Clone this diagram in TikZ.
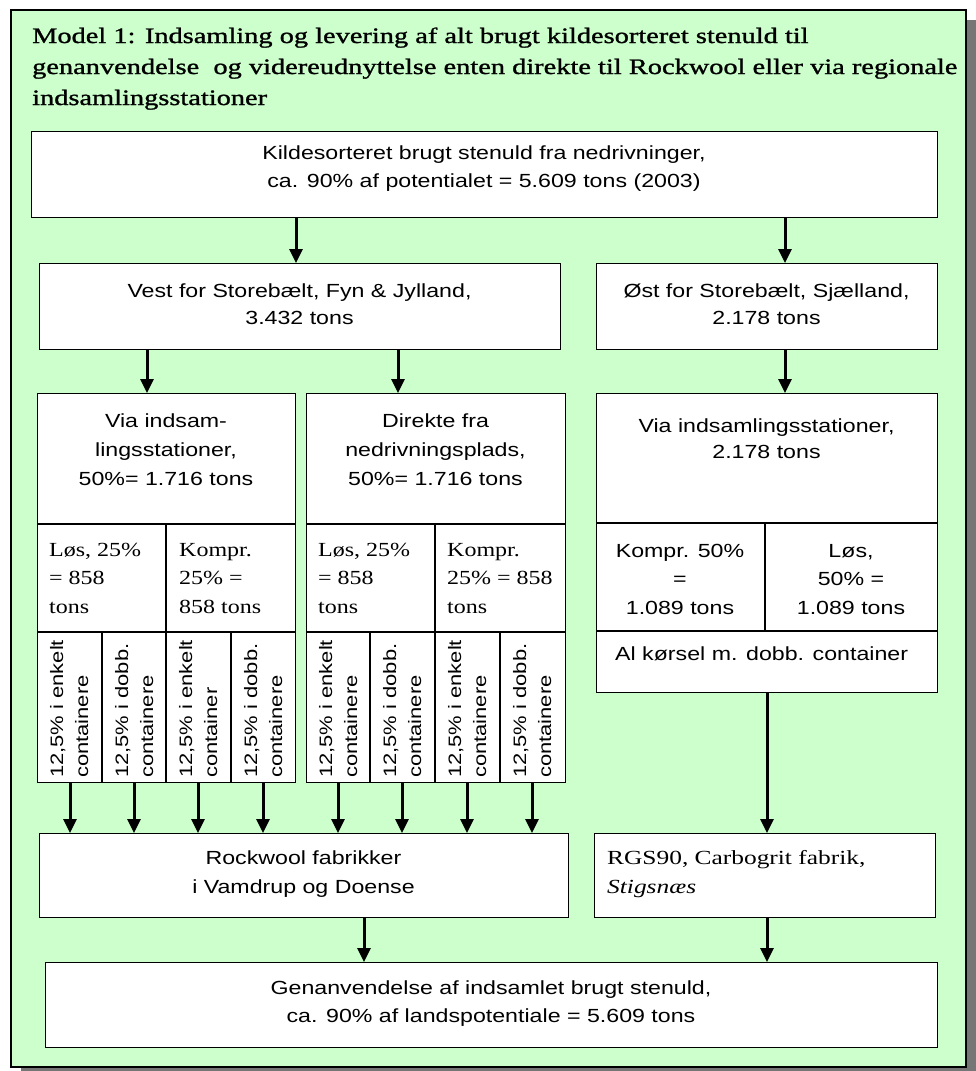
\documentclass[tikz,border=0pt]{standalone}
\usepackage{fontspec}
\setmainfont{Liberation Sans}[FakeStretch=1.22]
\newfontfamily\tnr{Liberation Serif}[FakeStretch=1.2]
\newfontfamily\tnrT{Liberation Serif}[FakeStretch=1.27]
\newfontfamily\tnrTB{Liberation Serif}[FakeStretch=1.29,FakeBold=1.2]
\usetikzlibrary{arrows.meta}
\definecolor{bggreen}{RGB}{204,255,204}
\definecolor{shadegray}{RGB}{118,118,118}
\tikzset{
  boxn/.style={draw=black, line width=1.4pt, fill=white, inner sep=0pt, anchor=north west},
  rule/.style={draw=black, line width=1.4pt},
  arr/.style={line width=3pt, -{Triangle[length=14pt,width=13pt]}},
  sans/.style={inner sep=0pt, font=\fontsize{19}{28}\selectfont, align=center, anchor=base},
  sansl/.style={inner sep=0pt, font=\fontsize{19}{28}\selectfont, align=left, anchor=base west},
  serif/.style={inner sep=0pt, font=\tnr\fontsize{20}{28.5}\selectfont, align=left, anchor=base west},
  serifT/.style={inner sep=0pt, font=\tnrT\fontsize{20}{29}\selectfont, align=left, anchor=base west},
  ttl/.style={inner sep=0pt, font=\tnrTB\fontsize{22}{30}\selectfont, anchor=base west},
  rot/.style={inner sep=0pt, font=\fontsize{18}{25}\selectfont, align=left, rotate=90, anchor=north west},
}
\begin{document}
\begin{tikzpicture}[x=1pt,y=-1pt]
\useasboundingbox (0,0) rectangle (976,1071);
\clip (0,0) rectangle (976,1071);
% frame with shadow
\fill[shadegray] (21,20) rectangle (986,1081);
\draw[line width=2.5pt, fill=bggreen] (11,10) rectangle (966,1067);
% title
\node[ttl] (ttl1) at (32,43) {Model 1: Indsamling og levering af alt brugt kildesorteret stenuld til};
\node[ttl] (ttl2) at (32,74) {genanvendelse\ \ og videreudnyttelse enten direkte til Rockwool eller via regionale};
\node[ttl] (ttl3) at (32,105) {indsamlingsstationer};
% boxes
\node[boxn, minimum width=906pt, minimum height=86pt] (src) at (31,131) {};
\node[boxn, minimum width=521pt, minimum height=86pt] (vest) at (39,263) {};
\node[boxn, minimum width=341pt, minimum height=86pt] (ost) at (596,263) {};
\node[boxn, minimum width=258pt, minimum height=389pt] (tA) at (37,393) {};
\node[boxn, minimum width=259pt, minimum height=389pt] (tB) at (306,393) {};
\node[boxn, minimum width=341pt, minimum height=299pt] (tC) at (596,393) {};
\node[boxn, minimum width=529pt, minimum height=84pt] (rock) at (39,833) {};
\node[boxn, minimum width=341pt, minimum height=84pt] (rgs) at (594,833) {};
\node[boxn, minimum width=892pt, minimum height=85pt] (reuse) at (45,962) {};
% table rules
\draw[rule] (37,524) -- (295,524) (37,632) -- (295,632) (166,524) -- (166,782)
  (102,632) -- (102,782) (231,632) -- (231,782);
\draw[rule] (306,524) -- (565,524) (306,632) -- (565,632) (435,524) -- (435,782)
  (370,632) -- (370,782) (500,632) -- (500,782);
\draw[rule] (596,523) -- (937,523) (596,631) -- (937,631) (765,523) -- (765,631);
% texts (anchor = baseline of the last line)
\node[sans] (srcT) at (484,187) {Kildesorteret brugt stenuld fra nedrivninger,\\ca. 90\% af potentialet = 5.609 tons (2003)};
\node[sans, font=\fontsize{19}{27}\selectfont] (vestT) at (299.5,324) {Vest for Storebælt, Fyn \& Jylland,\\3.432 tons};
\node[sans, font=\fontsize{19}{27}\selectfont] (ostT) at (766.5,324) {Øst for Storebælt, Sjælland,\\2.178 tons};
\node[sans, font=\fontsize{19}{29}\selectfont] (tAT) at (166,485) {Via indsam-\\lingsstationer,\\50\%= 1.716 tons};
\node[sans, font=\fontsize{19}{29}\selectfont] (tBT) at (435.5,485) {Direkte fra\\nedrivningsplads,\\50\%= 1.716 tons};
\node[sans, font=\fontsize{19}{26}\selectfont] (tCT) at (766.5,458) {Via indsamlingsstationer,\\2.178 tons};
\node[serif] (a1) at (49,613) {Løs, 25\%\\= 858\\tons};
\node[serif] (a2) at (179,613) {Kompr.\\25\% =\\858 tons};
\node[serif] (b1) at (318,613) {Løs, 25\%\\= 858\\tons};
\node[serif] (b2) at (447,613) {Kompr.\\25\% = 858\\tons};
\node[sans, font=\fontsize{19}{28.5}\selectfont] (c1) at (680,614) {Kompr. 50\%\\=\\1.089 tons};
\node[sans, font=\fontsize{19}{28.5}\selectfont] (c2) at (851,614) {Løs,\\50\% =\\1.089 tons};
\node[sansl] (c3) at (615,660) {Al kørsel m. dobb. container};
% rotated cells
\node[rot] (r1) at (50,778) {12,5\% i enkelt\\containere};
\node[rot] (r2) at (115,778) {12,5\% i dobb.\\containere};
\node[rot] (r3) at (179,778) {12,5\% i enkelt\\container};
\node[rot] (r4) at (244,778) {12,5\% i dobb.\\containere};
\node[rot] (r5) at (319,778) {12,5\% i enkelt\\containere};
\node[rot] (r6) at (383,778) {12,5\% i dobb.\\containere};
\node[rot] (r7) at (448,778) {12,5\% i enkelt\\containere};
\node[rot] (r8) at (513,778) {12,5\% i dobb.\\containere};
\node[sans, font=\fontsize{19}{29}\selectfont] (rockT) at (303.5,893) {Rockwool fabrikker\\i Vamdrup og Doense};
\node[serifT] (rgsT) at (607,893) {RGS90, Carbogrit fabrik,\\\textit{Stigsnæs}};
\node[sans] (reuseT) at (491,1022) {Genanvendelse af indsamlet brugt stenuld,\\ca. 90\% af landspotentiale = 5.609 tons};
% arrows
\coordinate (xa) at (296,0);
\coordinate (xb) at (785,0);
\coordinate (xc) at (147,0);
\coordinate (xd) at (398,0);
\coordinate (xe) at (767,0);
\coordinate (xf) at (364,0);
\draw[arr] (src.south -| xa) -- (vest.north -| xa);
\draw[arr] (src.south -| xb) -- (ost.north -| xb);
\draw[arr] (vest.south -| xc) -- (tA.north -| xc);
\draw[arr] (vest.south -| xd) -- (tB.north -| xd);
\draw[arr] (ost.south -| xb) -- (tC.north -| xb);
\foreach \xx [count=\i] in {70,134,198,263} {
  \coordinate (pa\i) at (\xx,0);
  \draw[arr] (tA.south -| pa\i) -- (rock.north -| pa\i);
}
\foreach \xx [count=\i] in {338,402,467,532} {
  \coordinate (pb\i) at (\xx,0);
  \draw[arr] (tB.south -| pb\i) -- (rock.north -| pb\i);
}
\draw[arr] (tC.south -| xe) -- (rgs.north -| xe);
\draw[arr] (rock.south -| xf) -- (reuse.north -| xf);
\draw[arr] (rgs.south -| xe) -- (reuse.north -| xe);
\end{tikzpicture}
\end{document}
